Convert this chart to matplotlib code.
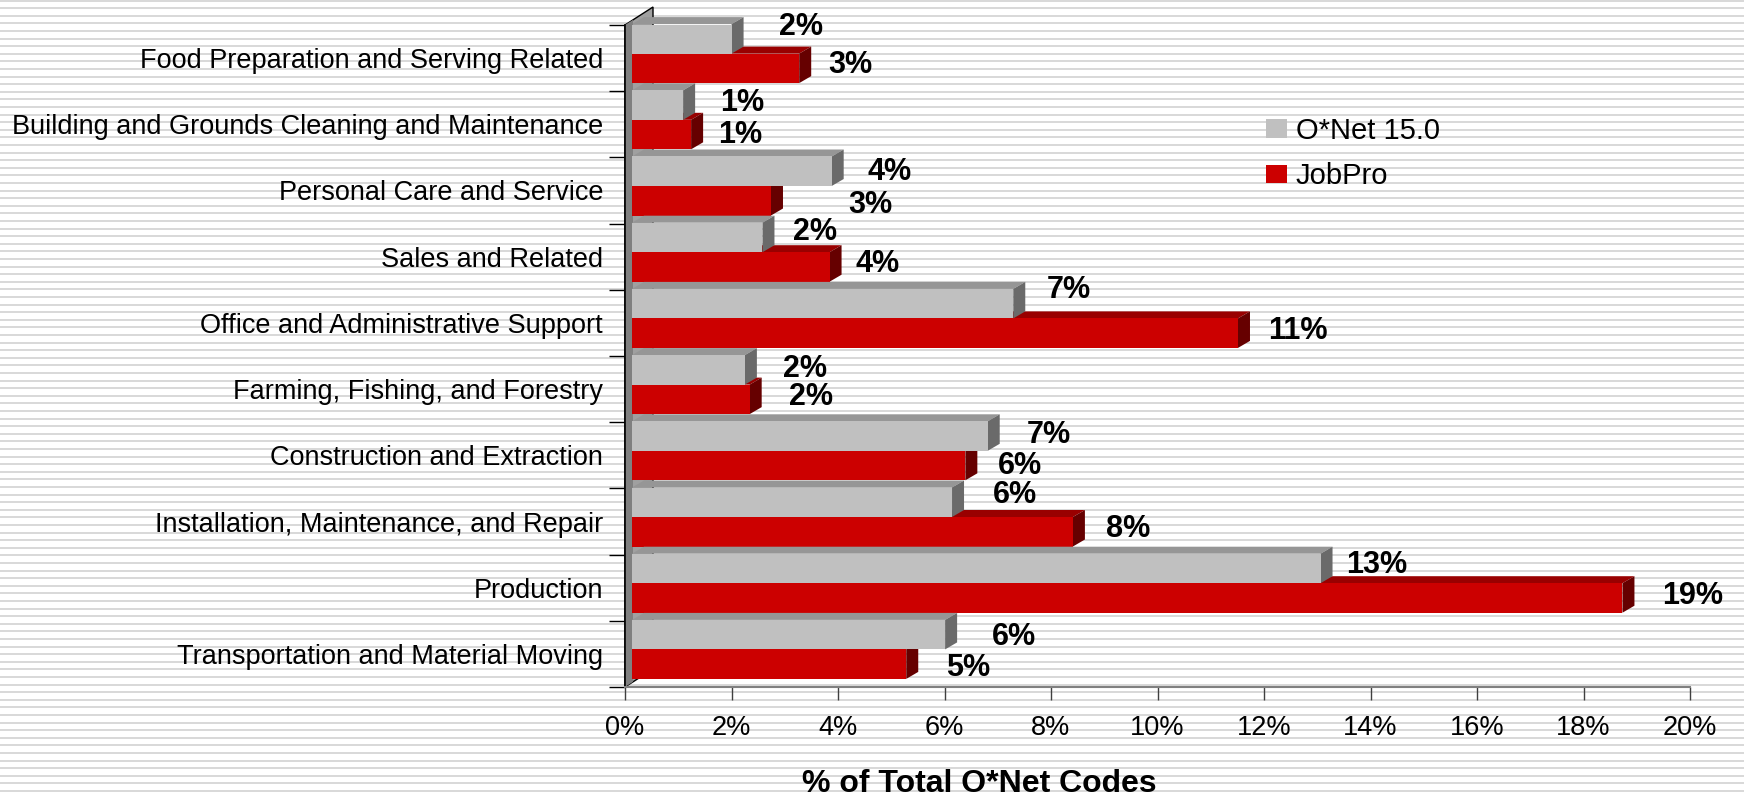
import matplotlib
matplotlib.use("Agg")
import matplotlib.pyplot as plt
import numpy as np
from matplotlib.patches import Polygon

# ---------------- data ----------------
categories = [
    "Food Preparation and Serving Related",
    "Building and Grounds Cleaning and Maintenance",
    "Personal Care and Service",
    "Sales and Related",
    "Office and Administrative Support",
    "Farming, Fishing, and Forestry",
    "Construction and Extraction",
    "Installation, Maintenance, and Repair",
    "Production",
    "Transportation and Material Moving",
]
onet = [1.87, 0.96, 3.75, 2.45, 7.16, 2.12, 6.68, 6.01, 12.93, 5.88]
jobpro = [3.14, 1.11, 2.61, 3.71, 11.38, 2.21, 6.26, 8.28, 18.60, 5.15]
onet_labels = ["2%", "1%", "4%", "2%", "7%", "2%", "7%", "6%", "13%", "6%"]
jobpro_labels = ["3%", "1%", "3%", "4%", "11%", "2%", "6%", "8%", "19%", "5%"]
series_names = ["O*Net 15.0", "JobPro"]
xticks = [0, 2, 4, 6, 8, 10, 12, 14, 16, 18, 20]
xtick_labels = [f"{t}%" for t in xticks]
x_title = "% of Total O*Net Codes"

# label nudges in pixels (right, down) relative to bar end / bar centre
onet_dx = [47, 37, 36, 31, 33, 38, 39, 41, 26, 47]
onet_dy = [-15, -5, -2.5, -8, -16.6, -3.5, -4.3, -10.5, -6.7, -0.6]
jobpro_dx = [29, 27, 77, 26, 30, 39, 33, 33, 40, 40]
jobpro_dy = [-6.7, -2.8, 1, -5.7, -4.8, -4.8, -2.8, -5.4, -4.6, 0.9]

# ---------------- style ----------------
plt.rcParams["font.family"] = ["Liberation Sans", "DejaVu Sans"]
W, H, DPI = 1744, 797, 100
GRAY_F, GRAY_T, GRAY_S = "#c0c0c0", "#969696", "#6a6a6a"
RED_F, RED_T, RED_S = "#cc0000", "#990000", "#660000"

fig = plt.figure(figsize=(W / DPI, H / DPI), dpi=DPI)
fig.patch.set_facecolor("white")

# striped background
bg = fig.add_axes([0, 0, 1, 1], zorder=0)
bg.set_xlim(0, W)
bg.set_ylim(H, 0)
bg.axis("off")
bg.hlines(np.arange(0.5, H, 7.6), 0, W, color="#d9d9d9", lw=2 * 72 / DPI)

# main axes (front plane)
x0, x1, ytop, ybot = 625, 1690, 25, 687
ax = fig.add_axes([x0 / W, 1 - ybot / H, (x1 - x0) / W, (ybot - ytop) / H], zorder=1)
ax.set_facecolor("none")
ax.set_xlim(0, 20)
ax.set_ylim(0, 10)
px_x = (x1 - x0) / 20.0
px_y = (ybot - ytop) / 10.0

def dxp(p):
    return p / px_x

def dyp(p):
    return p / px_y

ox, oy = dxp(7), dyp(4.5)      # bar front-face shift
ddx, ddy = dxp(12), dyp(7)     # bar depth
h = dyp(29.5)                  # bar thickness

n = len(categories)
yc = np.array([n - 0.5 - i for i in range(n)])
bc = yc + oy

# wall
wall = Polygon([(0, 0), (0, 10), (dxp(28), 10 + dyp(18)), (dxp(28), dyp(18))],
               closed=True, facecolor="#a0a0a0", edgecolor="black", lw=1,
               zorder=2, clip_on=False)
ax.add_patch(wall)
strip = Polygon([(0, 0), (0, 10), (dxp(8), 10 + dyp(8 * 18 / 28)), (dxp(8), dyp(8 * 18 / 28))],
                closed=True, facecolor="#808080", edgecolor="none", zorder=2.2, clip_on=False)
ax.add_patch(strip)

def faces(vals, bottoms, top_c, side_c, z):
    for v, b in zip(vals, bottoms):
        t = b + h
        e = ox + v
        ax.add_patch(Polygon([(ox, t), (e, t), (e + ddx, t + ddy), (ox + ddx, t + ddy)],
                             closed=True, facecolor=top_c, edgecolor="none",
                             zorder=z, clip_on=False))
        ax.add_patch(Polygon([(e, b), (e, t), (e + ddx, t + ddy), (e + ddx, b + ddy)],
                             closed=True, facecolor=side_c, edgecolor="none",
                             zorder=z, clip_on=False))

faces(jobpro, bc - h, RED_T, RED_S, 3)
b_red = ax.barh(bc - h, jobpro, height=h, left=ox, align="edge", color=RED_F,
                zorder=4, label=series_names[1])
faces(onet, bc, GRAY_T, GRAY_S, 5)
b_gray = ax.barh(bc, onet, height=h, left=ox, align="edge", color=GRAY_F,
                 zorder=6, label=series_names[0])

# data labels
fs_lab = 22
half_cap = 0.716 * fs_lab * DPI / 72 / 2
for i in range(n):
    gx = ox + onet[i] + dxp(onet_dx[i])
    gy = bc[i] + h / 2 - dyp(onet_dy[i]) - dyp(half_cap)
    ax.text(gx, gy, onet_labels[i], fontsize=fs_lab, fontweight="bold",
            ha="left", va="baseline", zorder=8, clip_on=False)
    rx = ox + jobpro[i] + dxp(jobpro_dx[i])
    ry = bc[i] - h / 2 - dyp(jobpro_dy[i]) - dyp(half_cap)
    ax.text(rx, ry, jobpro_labels[i], fontsize=fs_lab, fontweight="bold",
            ha="left", va="baseline", zorder=8, clip_on=False)

# axes styling
for s in ["top", "right"]:
    ax.spines[s].set_visible(False)
ax.spines["left"].set_color("black")
ax.spines["left"].set_linewidth(1.2)
ax.spines["bottom"].set_color("#808080")
ax.spines["bottom"].set_linewidth(1.5)

ax.set_yticks(np.arange(0, n + 1))
ax.set_yticklabels([])
ax.tick_params(axis="y", which="major", length=16 * 72 / DPI, width=1.0, color="black")
ax.set_yticks(yc, minor=True)
ax.set_yticklabels(categories, minor=True, fontsize=19.5)
ax.tick_params(axis="y", which="minor", length=0, pad=22 * 72 / DPI)

ax.set_xticks(xticks)
ax.set_xticklabels(xtick_labels, fontsize=19.5)
ax.tick_params(axis="x", which="major", length=13 * 72 / DPI, width=1.0,
               color="#404040", pad=11)

# legend
leg = fig.legend(handles=[b_gray, b_red], labels=series_names, loc="upper left",
                 bbox_to_anchor=(1266 / W, 1 - 117 / H), frameon=False, fontsize=21,
                 handlelength=0.72, handleheight=0.6, handletextpad=0.3,
                 labelspacing=0.6, borderpad=0, borderaxespad=0)

fig.text(979 / W, 1 - 792 / H, x_title, ha="center", va="baseline",
         fontsize=23, fontweight="bold")

fig.savefig("out.png", dpi=DPI)
